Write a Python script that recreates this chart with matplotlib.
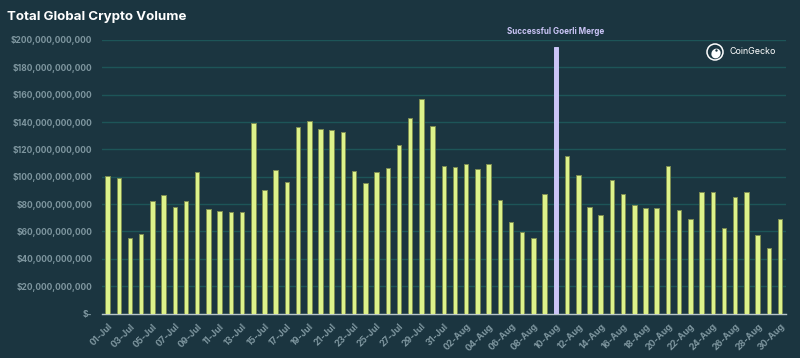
import matplotlib
matplotlib.use("Agg")
import matplotlib.pyplot as plt
from matplotlib.patches import Circle, Ellipse
from matplotlib.ticker import FuncFormatter

dates = ([f"{d:02d}-Jul" for d in range(1, 32)] + [f"{d:02d}-Aug" for d in range(1, 31)])
volumes_b = [100.6, 99.2, 55.1, 57.8, 82.4, 86.5, 78.0, 82.1, 103.6, 76.1,
             75.1, 74.1, 73.9, 139.1, 90.4, 105.0, 96.0, 136.6, 140.5, 134.7,
             134.0, 132.5, 104.3, 95.3, 103.3, 106.5, 123.5, 143.0, 157.1, 136.9,
             107.9, 107.0, 109.4, 105.5, 109.4, 83.1, 67.1, 59.8, 55.1, 87.7,
             195.0, 115.4, 101.0, 78.2, 71.8, 97.6, 87.2, 79.4, 77.2, 77.4,
             107.6, 75.7, 69.4, 88.9, 88.9, 62.6, 85.0, 89.1, 57.2, 47.7, 68.9]
highlight_label = "10-Aug"
annotation = "Successful Goerli Merge"
title = "Total Global Crypto Volume"

BG = "#1b3540"
BAR = "#ddf28a"
BAR_EDGE = "#7d8c52"
HL = "#cbc5f7"
GRID = "#1d5558"
TICK = "#7e969f"

plt.rcParams['font.family'] = ['Inter', 'DejaVu Sans']

fig = plt.figure(figsize=(8, 3.58), dpi=100, facecolor=BG)
ax = fig.add_axes([0.1275, 0.1243, 0.8545, 0.764])
ax.set_facecolor(BG)

x = list(range(len(dates)))
vals = [v * 1e9 for v in volumes_b]
colors = [HL if d == highlight_label else BAR for d in dates]
edges = [HL if d == highlight_label else BAR_EDGE for d in dates]
ax.bar(x, vals, width=0.4, color=colors, edgecolor=edges, linewidth=0.7, zorder=3)

ax.set_xlim(-0.5, len(dates) - 0.5)
ax.set_ylim(0, 200e9)
ax.set_yticks([i * 20e9 for i in range(11)])
ax.yaxis.set_major_formatter(FuncFormatter(lambda v, p: "$-" if v == 0 else f"${v:,.0f}"))
ax.grid(axis='y', color=GRID, linewidth=1.0, zorder=0)
ax.set_axisbelow(True)

ax.set_xticks(x[::2])
ax.set_xticklabels(dates[::2], rotation=45, ha='right', rotation_mode='anchor')
ax.tick_params(axis='x', colors=TICK, labelsize=6.5, length=0, pad=6)
ax.tick_params(axis='y', colors=TICK, labelsize=6.1, length=0, pad=7)
for lab in ax.get_xticklabels() + ax.get_yticklabels():
    lab.set_fontweight('bold')
    lab.set_color(TICK)

for s in ['top', 'right', 'left']:
    ax.spines[s].set_visible(False)
ax.spines['bottom'].set_color('#b8c4c8')
ax.spines['bottom'].set_linewidth(1.0)

hi = dates.index(highlight_label)
ax.text(hi, 203e9, annotation, ha='center', va='bottom', color=HL,
        fontsize=5.8, fontweight='bold', clip_on=False)

fig.text(7 / 800, 1 - 17 / 358, title, color='white', fontsize=9.6,
         fontweight='bold', ha='left', va='center')

# CoinGecko mark
px, py = 715, 358 - 52
fig.patches.append(Circle((px, py), 8, transform=None,
                          facecolor='none', edgecolor='white', linewidth=1.1))
fig.patches.append(Ellipse((px + 1, py - 1.5), 9, 10, angle=-30, transform=None,
                           facecolor='white', edgecolor='none'))
fig.patches.append(Circle((px + 1.5, py + 1.5), 1.2, transform=None,
                          facecolor=BG, edgecolor='none'))
fig.text(729 / 800, py / 358, "CoinGecko", color='white', fontsize=6.4,
         ha='left', va='center')

fig.savefig("out.png", dpi=100, facecolor=BG)
